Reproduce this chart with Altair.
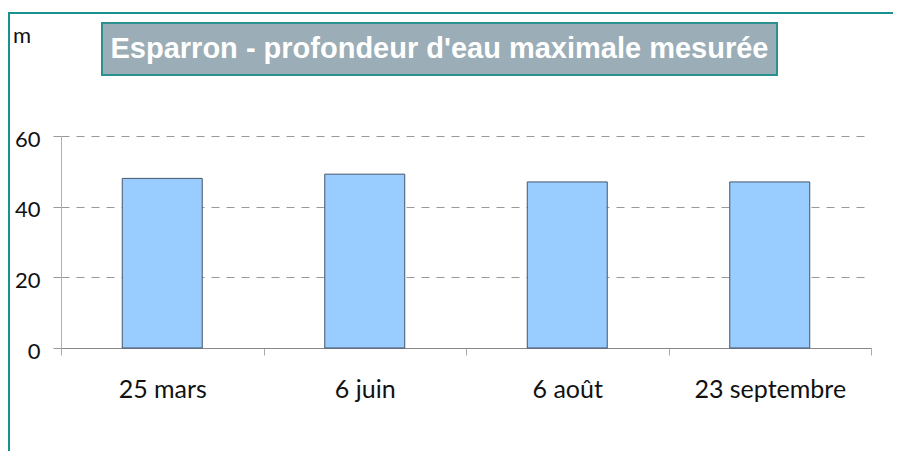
import altair as alt
import pandas as pd

categories = ["25 mars", "6 juin", "6 août", "23 septembre"]
values = [48, 49.2, 47, 47]
title_text = "Esparron - profondeur d'eau maximale mesurée"
unit_text = "m"
y_ticks = [0, 20, 40, 60]

df = pd.DataFrame({"date": categories, "depth": values})
one = pd.DataFrame({"t": [title_text], "u": [unit_text]})

W, H = 810, 212

bars = alt.Chart(df).mark_bar(
    fill="#99CCFF", stroke="#45556a", strokeWidth=1, width=alt.RelativeBandSize(0.395)
).encode(
    x=alt.X("date:N", sort=categories,
            scale=alt.Scale(paddingInner=0, paddingOuter=0),
            axis=alt.Axis(title=None, labelAngle=0, labelFont="Lato", labelFontSize=25,
                          labelColor="#111111", labelPadding=22, tickBand="extent",
                          tickSize=7, tickColor="#aaaaaa", domainColor="#888888",
                          grid=False, labelBaseline="top")),
    y=alt.Y("depth:Q", scale=alt.Scale(domain=[0, 60], nice=False),
            axis=alt.Axis(title=None, values=y_ticks, labelFont="Lato", labelFontSize=22,
                          labelColor="#111111", labelPadding=13, tickSize=8,
                          tickColor="#999999", domainColor="#b0b0b0",
                          gridColor="#999999", gridDash=[8, 7], gridWidth=1,
                          labelOffset=3)),
)

border_left = alt.Chart(one).mark_rule(color="#17928f", strokeWidth=2).encode(
    x=alt.value(-52), y=alt.value(-123), y2=alt.value(H + 110)
)
border_top = alt.Chart(one).mark_rule(color="#17928f", strokeWidth=2).encode(
    x=alt.value(-53), x2=alt.value(W + 30), y=alt.value(-123)
)

title_box = alt.Chart(one).mark_rect(
    fill="#9badb6", stroke="#2a9090", strokeWidth=2
).encode(
    x=alt.value(41), x2=alt.value(716), y=alt.value(-113), y2=alt.value(-61)
)
title = alt.Chart(one).mark_text(
    font="Liberation Sans", fontWeight="bold", fontSize=29, color="white",
    align="center", baseline="middle"
).encode(x=alt.value(378.5), y=alt.value(-87), text="t:N")

unit = alt.Chart(one).mark_text(
    font="Lato", fontSize=22, color="#111111", align="left", baseline="alphabetic"
).encode(x=alt.value(-48), y=alt.value(-93), text="u:N")

chart = alt.layer(bars, border_left, border_top, title_box, title, unit).properties(
    width=W, height=H,
    autosize=alt.AutoSizeParams(type="none"),
    padding={"left": 53, "top": 128, "right": 22, "bottom": 103},
    view=alt.ViewBackground(stroke="transparent", strokeOpacity=0, strokeWidth=0),
).configure(background="white")

chart.save("out.html", embed_options={"renderer": "svg", "actions": False})
